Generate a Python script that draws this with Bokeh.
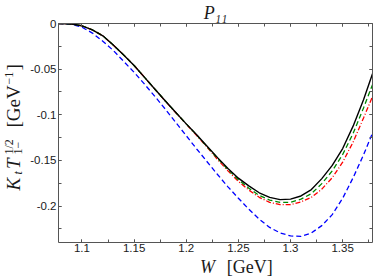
import numpy as np
from bokeh.plotting import figure
from bokeh.models import Range1d, LinearAxis, FixedTicker, Label
from bokeh.layouts import column, row
from bokeh.embed import file_html
from bokeh.resources import INLINE

# ---------------- data ----------------
W = [1.0775, 1.09, 1.10, 1.11, 1.12, 1.13, 1.14, 1.15, 1.16, 1.17, 1.18,
     1.19, 1.20, 1.21, 1.22, 1.23, 1.24, 1.25, 1.26, 1.27, 1.28, 1.29,
     1.30, 1.31, 1.32, 1.33, 1.34, 1.35, 1.36, 1.37, 1.3786]

black = [0.0, -0.0005, -0.0025, -0.007, -0.0135, -0.0235, -0.0345, -0.046,
         -0.059, -0.072, -0.085, -0.0975, -0.110, -0.122, -0.1345, -0.147,
         -0.159, -0.1695, -0.178, -0.1855, -0.1905, -0.193, -0.1925, -0.189,
         -0.182, -0.170, -0.1555, -0.137, -0.1125, -0.0835, -0.055]

green = [0.0, -0.0005, -0.0025, -0.007, -0.0135, -0.0235, -0.0345, -0.046,
         -0.059, -0.072, -0.085, -0.0975, -0.110, -0.1222, -0.135, -0.1478,
         -0.160, -0.1712, -0.1805, -0.1885, -0.1935, -0.196, -0.196, -0.1925,
         -0.1865, -0.1755, -0.1615, -0.1435, -0.1205, -0.0925, -0.067]

red = [0.0, -0.0005, -0.0025, -0.007, -0.0135, -0.0235, -0.0345, -0.046,
       -0.059, -0.0722, -0.0853, -0.0978, -0.1103, -0.1228, -0.1356, -0.149,
       -0.1615, -0.173, -0.1825, -0.1905, -0.196, -0.1985, -0.1985, -0.1955,
       -0.1905, -0.1815, -0.169, -0.152, -0.130, -0.1035, -0.080]

blue = [0.0, -0.001, -0.004, -0.0105, -0.0195, -0.0295, -0.0415, -0.0535,
        -0.0665, -0.080, -0.094, -0.1085, -0.123, -0.1375, -0.1515, -0.1655,
        -0.179, -0.1915, -0.2035, -0.2145, -0.2235, -0.2295, -0.2328, -0.2333,
        -0.2295, -0.2215, -0.2095, -0.1915, -0.169, -0.144, -0.120]

x_ticks = [1.1, 1.15, 1.2, 1.25, 1.3, 1.35]
x_tick_labels = ["1.1", "1.15", "1.2", "1.25", "1.3", "1.35"]
x_minor = [1.1, 1.125, 1.15, 1.175, 1.2, 1.225, 1.25, 1.275, 1.3, 1.325, 1.35, 1.375]
y_ticks = [0.0, -0.05, -0.1, -0.15, -0.2]
y_tick_labels = ["0", "-0.05", "-0.1", "-0.15", "-0.2"]
y_minor = [0.0, -0.025, -0.05, -0.075, -0.1, -0.125, -0.15, -0.175, -0.2, -0.225]

title_text = "P\u2081\u2081"

X0, X1 = 1.0775, 1.3786
Y0, Y1 = -0.24, 0.0

AX = "#555555"
TXT = "#1a1a1a"
SERIF = "Liberation Serif"
MID = 0.3375   # (ascent - descent) / 2 of the serif font, in em

# ---------------- layout sizes (page pixels) ----------------
PAGE_W, PAGE_H = 374, 278
YLAB_W = 27           # strip at the left holding the y-axis label
XLAB_H = 22           # strip at the bottom holding the x-axis label
MAIN_W = PAGE_W - YLAB_W
MAIN_H = PAGE_H - XLAB_H
FRAME_L, FRAME_R, FRAME_T, FRAME_B = 56, 372, 22, 242


def text_fig(w, h, x0, y0):
    """A figure whose frame fills its canvas; its data units are page pixels."""
    f = figure(width=w, height=h, x_range=Range1d(x0, x0 + w), y_range=Range1d(y0 + h, y0),
               output_backend="svg", toolbar_location=None,
               x_axis_location=None, y_axis_location=None,
               min_border=0, min_border_left=0, min_border_right=0,
               min_border_top=0, min_border_bottom=0,
               outline_line_color=None, background_fill_color="white",
               border_fill_color="white")
    f.grid.visible = False
    return f


def lab(f, px, py, text, size, style="normal", vertical=False):
    """Place text whose baseline starts at page pixel (px, py)."""
    off = MID * size
    if vertical:
        x, y, angle = px - off, py, np.pi / 2
    else:
        x, y, angle = px, py - off, 0.0
    f.add_layout(Label(x=x, y=y, text=text, text_font=SERIF,
                       text_font_size="%gpx" % size, text_font_style=style,
                       text_color=TXT, text_align="left",
                       text_baseline="middle", angle=angle))


# ---------------- main chart ----------------
p = figure(width=MAIN_W, height=MAIN_H, x_range=Range1d(X0, X1), y_range=Range1d(Y0, Y1),
           output_backend="svg", toolbar_location=None, title=title_text,
           min_border_left=FRAME_L - YLAB_W, min_border_right=PAGE_W - FRAME_R,
           min_border_top=FRAME_T, min_border_bottom=MAIN_H - FRAME_B,
           background_fill_color="white", border_fill_color="white")
p.outline_line_color = None
p.xgrid.grid_line_color = None
p.ygrid.grid_line_color = None
p.title.text_font = SERIF
p.title.text_font_style = "italic"
p.title.text_font_size = "18px"
p.title.text_color = TXT
p.title.align = "center"
p.title.standoff = 1
p.title.offset = 1


def style_axis(ax, labels):
    ax.axis_line_color = AX
    ax.axis_line_width = 1
    ax.major_tick_line_color = AX
    ax.minor_tick_line_color = AX
    ax.major_tick_in = 3
    ax.major_tick_out = 0
    ax.minor_tick_in = 3
    ax.minor_tick_out = 0
    if labels:
        ax.major_label_text_font = "Liberation Sans"
        ax.major_label_text_font_size = "11.5px"
        ax.major_label_text_color = TXT
        ax.major_label_standoff = 1
    else:
        ax.major_label_text_font_size = "0px"
        ax.major_label_standoff = 0


xa = p.xaxis[0]
xa.ticker = FixedTicker(ticks=x_ticks, minor_ticks=x_minor)
xa.major_label_overrides = {t: s for t, s in zip(x_ticks, x_tick_labels)}
style_axis(xa, True)

ya = p.yaxis[0]
ya.ticker = FixedTicker(ticks=y_ticks, minor_ticks=y_minor)
ya.major_label_overrides = {t: s for t, s in zip(y_ticks, y_tick_labels)}
style_axis(ya, True)
ya.major_label_standoff = 2

top = LinearAxis(ticker=FixedTicker(ticks=x_ticks, minor_ticks=x_minor),
                 major_label_overrides={t: "" for t in x_ticks})
style_axis(top, False)
p.add_layout(top, "above")
right = LinearAxis(ticker=FixedTicker(ticks=y_ticks, minor_ticks=y_minor),
                   major_label_overrides={t: "" for t in y_ticks})
style_axis(right, False)
p.add_layout(right, "right")

p.line(W, blue, line_color="#0000ff", line_width=1.3, line_dash="5 3")
p.line(W, red, line_color="#ff0000", line_width=1.3, line_dash="5 2 1 2")
p.line(W, green, line_color="#008a00", line_width=1.3, line_dash="5 3")
p.line(W, black, line_color="#000000", line_width=1.4)

# ---------------- y-label strip: K_t T_{1-}^{1/2} [GeV^{-1}] ----------------
fy = text_fig(YLAB_W, PAGE_H, 0, 0)
lab(fy, 19.5, 190.0, "K", 19, "italic", True)
lab(fy, 22.0, 174.0, "t", 12, "italic", True)
lab(fy, 19.5, 168.5, "T", 19, "italic", True)
lab(fy, 12.5, 154.0, "1/2", 12, "normal", True)
lab(fy, 22.0, 154.0, "1\u2212", 12, "normal", True)
lab(fy, 19.5, 127.0, "[GeV", 19, "normal", True)
lab(fy, 12.5, 84.0, "\u22121", 12, "normal", True)
lab(fy, 19.5, 70.0, "]", 19, "normal", True)

# ---------------- x-label strip: W [GeV] ----------------
fx = text_fig(MAIN_W, XLAB_H, YLAB_W, MAIN_H)
lab(fx, 183.5, 272.5, "W", 18, "italic")
lab(fx, 213.0, 272.5, "[GeV]", 18)

layout = row(fy, column(p, fx))
open("out.html", "w").write(file_html(layout, INLINE))
